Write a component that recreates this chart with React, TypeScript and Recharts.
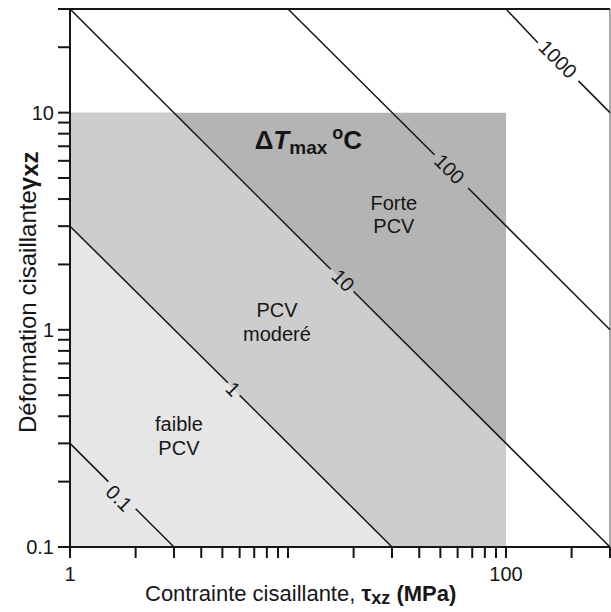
import React from "react";
import {
  ComposedChart,
  Area,
  XAxis,
  YAxis,
  ReferenceLine,
  ReferenceDot,
} from "recharts";

const FONT = "'Liberation Sans', Arial, Helvetica, sans-serif";
const INK = "#161616";

// axes ticks (tau in MPa, gamma dimensionless)
const xTicks = [1, 2, 3, 4, 5, 6, 7, 8, 9, 10, 20, 30, 40, 50, 60, 70, 80, 90, 100, 200, 300];
const xTickText = ["1", "", "", "", "", "", "", "", "", "", "", "", "", "", "", "", "", "", "100", "", ""];
const yTicks = [0.1, 0.2, 0.3, 0.4, 0.5, 0.6, 0.7, 0.8, 0.9, 1, 2, 3, 4, 5, 6, 7, 8, 9, 10, 20, 30];
const yTickText = ["0.1", "", "", "", "", "", "", "", "", "1", "", "", "", "", "", "", "", "", "10", "", ""];

// shaded zones: tau positions with gamma [low, high]
const strongX = [1, 100];
const strongLow = [0.1, 0.1];
const strongHigh = [10, 10];
const moderateX = [1, 3, 100];
const moderateLow = [0.1, 0.1, 0.1];
const moderateHigh = [10, 10, 0.3];
const weakX = [1, 30];
const weakLow = [0.1, 0.1];
const weakHigh = [3, 0.1];

// iso-ΔT lines: start, gap start, gap end, end
const isoLabels = ["0.1", "1", "10", "100", "1000"];
const isoX = [
  [1, 1.5, 2, 3],
  [1, 5.3, 6, 30],
  [1, 15.7, 20, 300],
  [10, 47, 67, 300],
  [100, 140, 215, 300],
];
const isoY = [
  [0.3, 0.2, 0.15, 0.1],
  [3, 0.57, 0.5, 0.1],
  [30, 1.9, 1.5, 0.1],
  [30, 6.4, 4.5, 1],
  [30, 21, 14, 10],
];
const isoLabelX = [1.68, 5.6, 17.9, 55, 173];
const isoLabelY = [0.168, 0.534, 1.69, 5.5, 17.6];

// zone notes
const noteText = ["Forte", "PCV", "PCV", "moderé", "faible", "PCV"];
const noteX = [30.6, 30.6, 8.9, 8.9, 3.16, 3.16];
const noteY = [3.85, 3.0, 1.24, 0.96, 0.367, 0.287];

const zone = (xs: number[], lo: number[], hi: number[]) =>
  xs.map((x, i) => ({ x, g: [lo[i], hi[i]] }));

const XTick = (props: any) => {
  const { x, y, payload } = props;
  const text = xTickText[xTicks.indexOf(payload.value)];
  return (
    <g>
      <line x1={x} x2={x} y1={y} y2={y + 11} stroke={INK} strokeWidth={2} />
      {text ? (
        <text x={x} y={y + 34} textAnchor="middle" fontFamily={FONT} fontSize={20} fill={INK}>
          {text}
        </text>
      ) : null}
    </g>
  );
};

const YTick = (props: any) => {
  const { x, y, payload } = props;
  const text = yTickText[yTicks.indexOf(payload.value)];
  return (
    <g>
      <line x1={x - 12} x2={x} y1={y} y2={y} stroke={INK} strokeWidth={2} />
      {text ? (
        <text x={x - 16} y={y + 7} textAnchor="end" fontFamily={FONT} fontSize={20} fill={INK}>
          {text}
        </text>
      ) : null}
    </g>
  );
};

const XTitle = () => (
  <text x={145} y={601} fontFamily={FONT} fontSize={22} fill={INK}>
    Contrainte cisaillante,{" "}
    <tspan fontWeight="bold">τ</tspan>
    <tspan fontWeight="bold" fontSize={18} dy={3}>xz</tspan>
    <tspan fontWeight="bold" dy={-3}> (MPa)</tspan>
  </text>
);

const YTitle = () => (
  <text
    x={36}
    y={433}
    transform="rotate(-90, 36, 433)"
    fontFamily={FONT}
    fontSize={24}
    fill={INK}
  >
    Déformation cisaillante
    <tspan fontWeight="bold">γ</tspan>
    <tspan fontWeight="bold" dy={2}>xz</tspan>
  </text>
);

export default function App() {
  return (
    <div style={{ position: "absolute", left: 0, top: 0, width: 611, height: 612, background: "#fff" }}>
      <ComposedChart width={611} height={612} margin={{ top: 9, right: 1, bottom: 0, left: 0 }}>
        <Area
          data={zone(strongX, strongLow, strongHigh)}
          dataKey="g"
          type="linear"
          stroke="none"
          fill="#b4b4b4"
          fillOpacity={1}
          dot={false}
          activeDot={false}
          isAnimationActive={false}
        />
        <Area
          data={zone(moderateX, moderateLow, moderateHigh)}
          dataKey="g"
          type="linear"
          stroke="none"
          fill="#cdcdcd"
          fillOpacity={1}
          dot={false}
          activeDot={false}
          isAnimationActive={false}
        />
        <Area
          data={zone(weakX, weakLow, weakHigh)}
          dataKey="g"
          type="linear"
          stroke="none"
          fill="#e6e6e6"
          fillOpacity={1}
          dot={false}
          activeDot={false}
          isAnimationActive={false}
        />
        <XAxis
          type="number"
          dataKey="x"
          scale="log"
          domain={[1, 300]}
          allowDataOverflow
          ticks={xTicks}
          interval={0}
          height={65}
          tickSize={0}
          tickMargin={0}
          tickLine={false}
          tick={<XTick />}
          axisLine={{ stroke: INK, strokeWidth: 2 }}
          label={{ content: () => <XTitle /> }}
        />
        <YAxis
          type="number"
          scale="log"
          domain={[0.1, 30]}
          allowDataOverflow
          ticks={yTicks}
          interval={0}
          width={70}
          tickSize={0}
          tickMargin={0}
          tickLine={false}
          tick={<YTick />}
          axisLine={{ stroke: INK, strokeWidth: 2 }}
          label={{ content: () => <YTitle /> }}
        />
        <ReferenceLine y={30} stroke={INK} strokeWidth={2} />
        <ReferenceLine x={300} stroke="#555" strokeWidth={1} />
        {isoLabels.map((lab, i) => (
          <ReferenceLine
            key={"a" + lab}
            segment={[
              { x: isoX[i][0], y: isoY[i][0] },
              { x: isoX[i][1], y: isoY[i][1] },
            ]}
            stroke={INK}
            strokeWidth={1.5}
            ifOverflow="visible"
          />
        ))}
        {isoLabels.map((lab, i) => (
          <ReferenceLine
            key={"b" + lab}
            segment={[
              { x: isoX[i][2], y: isoY[i][2] },
              { x: isoX[i][3], y: isoY[i][3] },
            ]}
            stroke={INK}
            strokeWidth={1.5}
            ifOverflow="visible"
          />
        ))}
        {isoLabels.map((lab, i) => (
          <ReferenceDot
            key={"l" + lab}
            x={isoLabelX[i]}
            y={isoLabelY[i]}
            r={0}
            ifOverflow="visible"
            shape={(p: any) => (
              <text
                x={p.cx}
                y={p.cy}
                dy="0.35em"
                textAnchor="middle"
                transform={`rotate(45, ${p.cx}, ${p.cy})`}
                fontFamily={FONT}
                fontSize={20}
                fill={INK}
              >
                {lab}
              </text>
            )}
          />
        ))}
        {noteText.map((t, i) => (
          <ReferenceDot
            key={"n" + i}
            x={noteX[i]}
            y={noteY[i]}
            r={0}
            ifOverflow="visible"
            shape={(p: any) => (
              <text
                x={p.cx}
                y={p.cy}
                dy="0.35em"
                textAnchor="middle"
                fontFamily={FONT}
                fontSize={20}
                fill={INK}
              >
                {t}
              </text>
            )}
          />
        ))}
        <ReferenceDot
          x={12.4}
          y={6.8}
          r={0}
          ifOverflow="visible"
          shape={(p: any) => (
            <text
              x={p.cx}
              y={p.cy}
              textAnchor="middle"
              fontFamily={FONT}
              fontSize={26}
              fontWeight="bold"
              fill={INK}
            >
              Δ<tspan fontStyle="italic">T</tspan>
              <tspan fontSize={19} dy={5}>max</tspan>
              <tspan fontSize={18} dy={-15}> o</tspan>
              <tspan dy={10}>C</tspan>
            </text>
          )}
        />
      </ComposedChart>
    </div>
  );
}
